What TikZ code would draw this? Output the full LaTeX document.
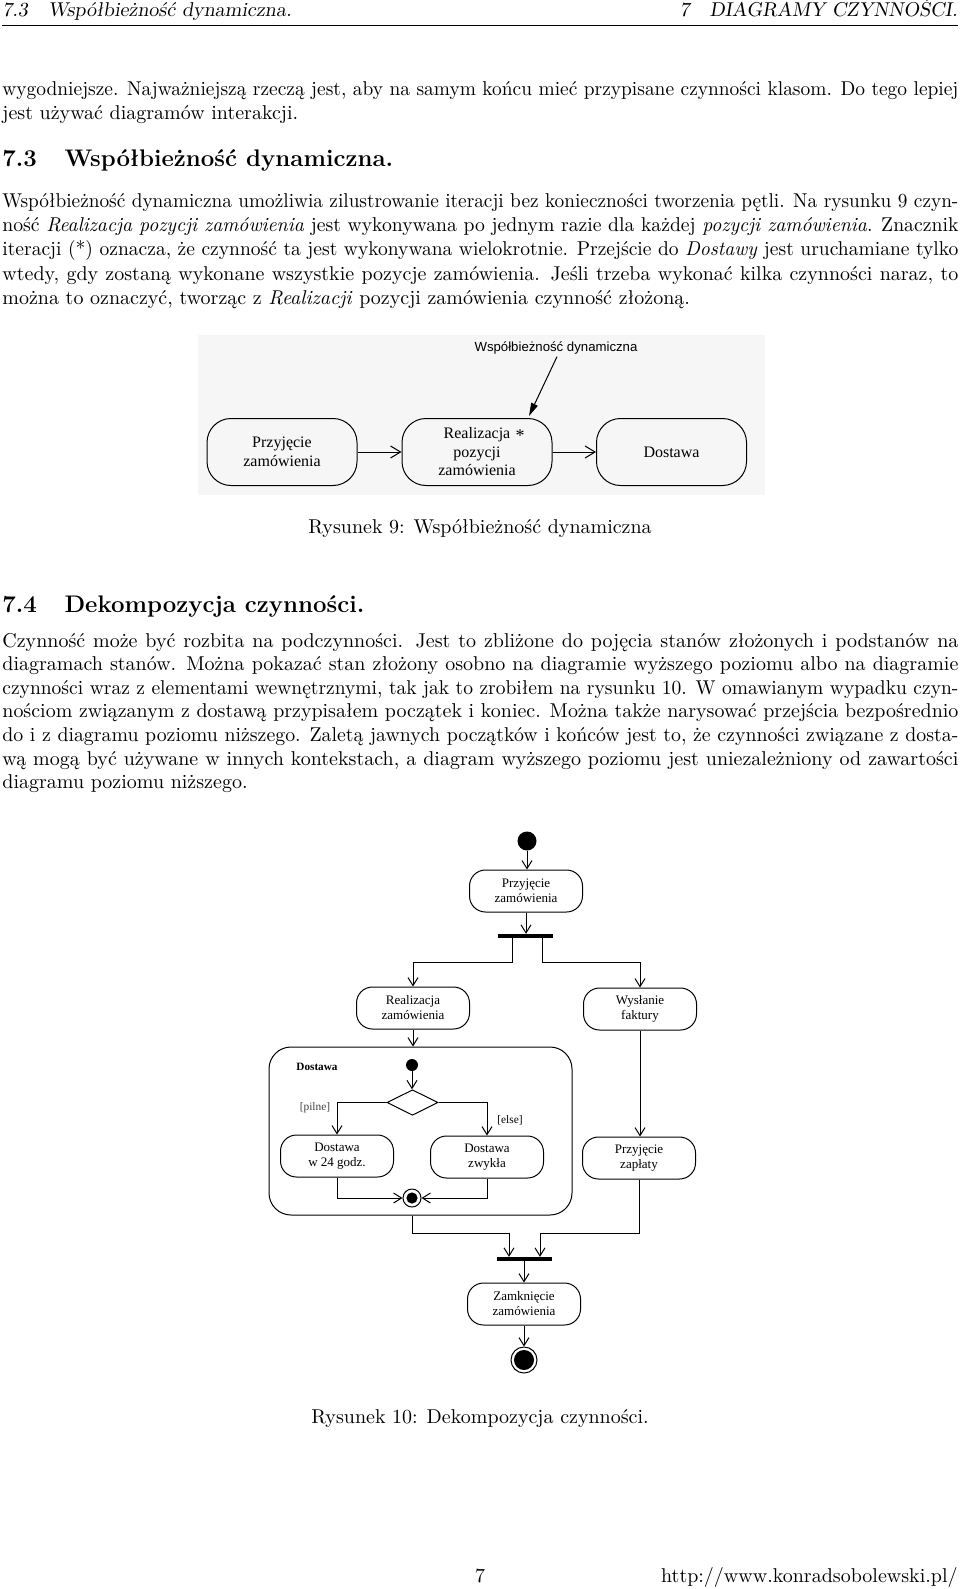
\documentclass[tikz,border=0pt]{standalone}
\usepackage{graphicx}
\usepackage{fontspec}
\newfontfamily\tms{Liberation Serif}
\newfontfamily\ars{Liberation Sans}
\usetikzlibrary{arrows.meta,shapes.geometric}
\newsavebox\lnbox
\newcommand\justln[3]{\node[txt] (#1) at (2,#2) {\sbox\lnbox{#3}\ifdim\wd\lnbox>477pt\resizebox{478pt}{\height}{\usebox\lnbox}\else\makebox[478pt][s]{#3}\fi};}
\newcommand\lastln[3]{\node[txt] (#1) at (2,#2) {#3};}
\tikzset{
  txt/.style={anchor=base west,inner sep=0pt,font=\fontsize{10}{12}\selectfont},
  ctxt/.style={anchor=base,inner sep=0pt,font=\fontsize{10}{12}\selectfont},
  act/.style={draw,line width=0.5pt,rounded corners=8pt,minimum width=56.5pt,minimum height=21pt,inner sep=1pt,align=center,font=\tms\fontsize{6.5}{7.5}\selectfont},
  act9/.style={draw,line width=0.5pt,rounded corners=12pt,minimum width=75pt,minimum height=33.5pt,inner sep=1pt,align=center,font=\tms\fontsize{8}{9.25}\selectfont},
  bar/.style={fill=black,inner sep=0pt,minimum width=27.5pt,minimum height=1.8pt},
  initn/.style={circle,fill=black,inner sep=0pt,minimum size=9.5pt},
  arr/.style={-{Straight Barb[length=4pt,width=5pt]},line width=0.5pt},
  arr9/.style={-{Straight Barb[length=5pt,width=6pt]},line width=0.5pt},
  guard/.style={inner sep=0pt,font=\tms\fontsize{5.7}{6}\selectfont},
}
\begin{document}
\begin{tikzpicture}[x=0.5pt,y=-0.5pt]
\useasboundingbox (0,0) rectangle (960,1589);
\fill[white] (0,0) rectangle (960,1589);

% running head
\node[txt,font=\fontsize{10}{12}\selectfont\slshape] (hl) at (2,17) {7.3\hspace{1em}Współbieżność dynamiczna.};
\node[anchor=base east,inner sep=0pt,font=\fontsize{10}{12}\selectfont\slshape] (hr) at (958,17) {7\hspace{1em}DIAGRAMY CZYNNOŚCI.};
\draw[line width=0.4pt] (2,25) -- (958,25);

% continued paragraph
\justln{t1}{96}{wygodniejsze. Najważniejszą rzeczą jest, aby na samym końcu mieć przypisane czynności klasom. Do tego lepiej}
\lastln{t2}{120}{jest używać diagramów interakcji.}

% 7.3
\node[txt,font=\fontsize{12}{14}\selectfont\bfseries] (h73) at (2,167) {7.3\hspace{1.15em}Współbieżność dynamiczna.};
\justln{a1}{208}{Współbieżność dynamiczna umożliwia zilustrowanie iteracji bez konieczności tworzenia pętli. Na rysunku 9 czyn-}
\justln{a2}{232}{ność \textit{Realizacja pozycji zamówienia} jest wykonywana po jednym razie dla każdej \textit{pozycji zamówienia}. Znacznik}
\justln{a3}{256}{iteracji (*) oznacza, że czynność ta jest wykonywana wielokrotnie. Przejście do \textit{Dostawy} jest uruchamiane tylko}
\justln{a4}{280}{wtedy, gdy zostaną wykonane wszystkie pozycje zamówienia. Jeśli trzeba wykonać kilka czynności naraz, to}
\lastln{a5}{304}{można to oznaczyć, tworząc z \textit{Realizacji} pozycji zamówienia czynność złożoną.}

% figure 9
\fill[gray!7] (198,335) rectangle (765,495);
\node[act9] (a9) at (282,452) {Przyjęcie\\zamówienia};
\node[act9] (b9) at (477,452) {Realizacja\\pozycji\\zamówienia};
\node[act9] (c9) at (671.5,452) {Dostawa};
\node[inner sep=1pt,font=\ars\fontsize{6.6}{7.5}\selectfont] (l9) at (556,348) {Współbieżność dynamiczna};
\node[inner sep=0pt,font=\tms\fontsize{9}{9}\selectfont] (s9) at (520,436) {*};
\coordinate (t9) at (529,416);
\draw[-{Triangle[length=6.5pt,width=3.5pt]},line width=0.5pt] ([xshift=0.5pt]l9.south) -- (t9);
\draw[arr9] (a9) -- (b9);
\draw[arr9] (b9) -- (c9);
\node[ctxt] (cap9) at (480,533) {Rysunek 9: Współbieżność dynamiczna};

% 7.4
\node[txt,font=\fontsize{12}{14}\selectfont\bfseries] (h74) at (2,612) {7.4\hspace{1.15em}Dekompozycja czynności.};
\justln{b1}{647}{Czynność może być rozbita na podczynności. Jest to zbliżone do pojęcia stanów złożonych i podstanów na}
\justln{b2}{670.6}{diagramach stanów. Można pokazać stan złożony osobno na diagramie wyższego poziomu albo na diagramie}
\justln{b3}{694.2}{czynności wraz z elementami wewnętrznymi, tak jak to zrobiłem na rysunku 10. W omawianym wypadku czyn-}
\justln{b4}{717.8}{nościom związanym z dostawą przypisałem początek i koniec. Można także narysować przejścia bezpośrednio}
\justln{b5}{741.4}{do i z diagramu poziomu niższego. Zaletą jawnych początków i końców jest to, że czynności związane z dosta-}
\justln{b6}{765}{wą mogą być używane w innych kontekstach, a diagram wyższego poziomu jest uniezależniony od zawartości}
\lastln{b7}{788.6}{diagramu poziomu niższego.}

% figure 10
\node[initn] (i1) at (527,841) {};
\node[act] (p1) at (526,891) {Przyjęcie\\zamówienia};
\node[bar] (fork) at (525.5,936) {};
\node[act] (real) at (413,1008) {Realizacja\\zamówienia};
\node[act] (wys) at (640,1009) {Wysłanie\\faktury};
\node[draw,line width=0.5pt,rounded corners=11pt,minimum width=151.5pt,minimum height=84pt,inner sep=0pt] (comp) at (420.5,1131) {};
\node[inner sep=0pt,font=\tms\bfseries\fontsize{5.6}{6}\selectfont] (compl) at (317,1067) {Dostawa};
\node[initn,minimum size=6pt] (i2) at (412,1065) {};
\node[diamond,draw,line width=0.5pt,aspect=2,minimum width=25.5pt,minimum height=12.75pt,inner sep=0pt] (dia) at (412.5,1102.5) {};
\node[guard,text=black!75] (gp) at (315,1108) {[pilne]};
\node[guard] (ge) at (510,1120) {[else]};
\node[act] (d24) at (337,1156) {Dostawa\\w 24 godz.};
\node[act] (dzw) at (487,1157) {Dostawa\\zwykła};
\node[circle,draw,line width=0.5pt,inner sep=0pt,minimum size=9pt,path picture={\fill (path picture bounding box.center) circle (2.8pt);}] (f2) at (412,1198) {};
\node[act] (zap) at (639,1158) {Przyjęcie\\zapłaty};
\node[bar] (join) at (524,1259) {};
\node[act] (zam) at (524,1304) {Zamknięcie\\zamówienia};
\node[circle,draw,line width=0.5pt,inner sep=0pt,minimum size=13pt,path picture={\fill (path picture bounding box.center) circle (5pt);}] (f1) at (524,1360) {};

\draw[arr] (i1.south) -- (i1.south |- p1.north);
\draw[arr] (p1.south) -- (p1.south |- fork.north);
\draw[arr] ([xshift=-6.75pt]fork.south) -- ++(0,24.5) -| (real.north);
\draw[arr] ([xshift=8.25pt]fork.south) -- ++(0,24.5) -| (wys.north);
\draw[arr] (real.south) -- (real.south |- comp.north);
\draw[arr] (i2.south) -- (i2.south |- dia.north);
\draw[arr] (dia.west) -| (d24.north);
\draw[arr] (dia.east) -| (dzw.north);
\draw[arr] (d24.south) |- (f2.west);
\draw[arr] (dzw.south) |- (f2.east);
\draw[arr] (wys.south) -- (wys.south |- zap.north);
\draw[arr] (comp.south -| f2) -- ++(0,18) -| ([xshift=-7.5pt]join.north);
\draw[arr] (zap.south) -- ++(0,54) -| ([xshift=8pt]join.north);
\draw[arr] (join.south) -- (join.south |- zam.north);
\draw[arr] (zam.south) -- (f1.north);

\node[ctxt] (cap10) at (480,1423) {Rysunek 10: Dekompozycja czynności.};

% footer
\node[ctxt] (pg) at (480,1582) {7};
\node[anchor=base east,inner sep=0pt,font=\fontsize{10}{12}\selectfont] (url) at (958,1582) {http://www.konradsobolewski.pl/};
\end{tikzpicture}
\end{document}
